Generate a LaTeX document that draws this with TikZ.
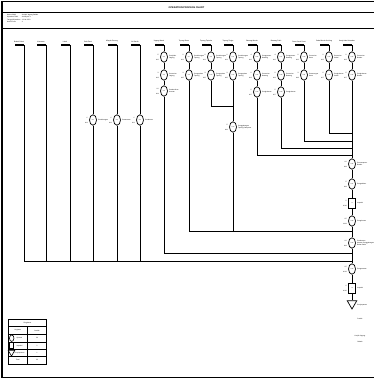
\documentclass[tikz,border=0pt]{standalone}
\usepackage{fontspec}
\setmainfont{Liberation Sans}
\usetikzlibrary{shapes.geometric}
\newcommand\tinyf{\fontsize{1.6}{1.9}\selectfont}
\tikzset{
  opsym/.style={ellipse, draw, line width=0.7pt, minimum width=7pt, minimum height=10.5pt, inner sep=0pt, font=\fontsize{1.3}{1.5}\selectfont},
  inspsym/.style={rectangle, draw, line width=0.7pt, minimum width=7pt, minimum height=10pt, inner sep=0pt, font=\fontsize{1.3}{1.5}\selectfont},
  storsym/.style={regular polygon, regular polygon sides=3, shape border rotate=180, draw, line width=0.7pt, minimum size=11pt, inner sep=0pt},
  flow/.style={line width=0.6pt},
  joinline/.style={line width=0.9pt},
  topbar/.style={line width=1.3pt},
  lbl/.style={font=\tinyf, inner sep=0pt, align=left},
  headlbl/.style={font=\fontsize{1.7}{2}\selectfont, inner sep=0pt},
}
% name, x, y, inside, left top, left bottom, right text
\newcommand\opc[7]{%
  \node[opsym] (#1) at (#2,#3) {#4};
  \node[lbl, anchor=east] (#1lt) at (#2-5,#3-2.5) {#5};
  \node[lbl, anchor=east] (#1lb) at (#2-5,#3+2.5) {#6};
  \node[lbl, anchor=west] (#1r) at (#2+5,#3) {#7};
}
% name, x, heading
\newcommand\colhead[3]{%
  \coordinate (b#1) at (#2-9,45);
  \coordinate (t#1) at (#2,45);
  \node[headlbl] (h#1) at (#2-5,41.5) {#3};
  \draw[topbar] (b#1) -- (t#1);
}
\begin{document}
\begin{tikzpicture}[x=1pt,y=-1pt]
\useasboundingbox (0,0) rectangle (373,379);
% frame and header
\coordinate (fl1) at (2,1.5); \coordinate (fr1) at (374,1.5);
\coordinate (fl2) at (2,12.5); \coordinate (fr2) at (374,12.5);
\coordinate (fl3) at (2,28.5); \coordinate (fr3) at (374,28.5);
\coordinate (fl4) at (2,377.8); \coordinate (fr4) at (374,377.8);
\draw[line width=0.5pt] (fl1) -- (fr1);
\draw[line width=0.5pt] (fl2) -- (fr2);
\draw[line width=1.3pt] (fl3) -- (fr3);
\draw[line width=1.3pt] (fl4) -- (fr4);
\draw[line width=1.5pt] (fl1) -- (fl4);
\node[font=\fontsize{2.4}{2.8}\selectfont\bfseries, inner sep=0pt] (title) at (186.5,7.3) {OPERATION PROCESS CHART};
\node[lbl, anchor=west] (n1) at (7,15) {Nama Objek};
\node[lbl, anchor=west] (n2) at (7,17.4) {Dipetakan Oleh};
\node[lbl, anchor=west] (n3) at (7,19.8) {Tanggal Dipetakan};
\node[lbl, anchor=west] (n4) at (7,22.2) {Nomor Peta};
\node[lbl, anchor=west] (v1) at (21,15) {: Keripik Jagung Balado};
\node[lbl, anchor=west] (v2) at (21,17.4) {: Kelompok 1};
\node[lbl, anchor=west] (v3) at (21,19.8) {: 12-04-2023};
\node[lbl, anchor=west] (v4) at (21,22.2) {: 1};

% column headings
\colhead{1}{24}{Bubuk Cabai}
\colhead{2}{46}{Kemasan}
\colhead{3}{70}{Label}
\colhead{4}{93}{Gula Pasir}
\colhead{5}{117}{Minyak Goreng}
\colhead{6}{140}{Air Bersih}
\colhead{7}{164}{Jagung Manis}
\colhead{8}{189}{Tepung Beras}
\colhead{9}{211}{Tepung Tapioka}
\colhead{10}{233}{Tepung Terigu}
\colhead{11}{257}{Bawang Merah}
\colhead{12}{281}{Bawang Putih}
\colhead{13}{304}{Daun Jeruk Purut}
\colhead{14}{329}{Cabai Merah Keriting}
\colhead{15}{352}{Kunyit dan Ketumbar}

% operations on the columns
\opc{c4a}{93}{120}{O-1}{1'}{M-1}{Penimbangan}
\opc{c5a}{117}{120}{O-2}{1'}{M-1}{Pemanasan}
\opc{c6a}{140}{120}{O-3}{1'}{M-1}{Penakaran}
\opc{c7a}{164}{57}{O-4}{5'}{M-2}{Pemipilan\\Jagung}
\opc{c7b}{164}{75}{O-5}{3'}{M-3}{Pencucian\\Jagung}
\opc{c7c}{164}{91}{O-6}{10'}{M-4}{Pembersihan\\Kotoran}
\opc{c8a}{189}{57}{O-7}{2'}{M-1}{Penimbangan\\Tepung}
\opc{c8b}{189}{75}{O-8}{3'}{M-5}{Pengayakan\\Tepung}
\opc{c9a}{211}{57}{O-9}{2'}{M-1}{Penimbangan\\Tepung}
\opc{c9b}{211}{75}{O-10}{3'}{M-5}{Pengayakan\\Tepung}
\opc{c10a}{233}{57}{O-11}{2'}{M-1}{Penimbangan\\Tepung}
\opc{c10b}{233}{75}{O-12}{3'}{M-5}{Pengayakan\\Tepung}
\opc{c10c}{233}{127}{O-13}{5'}{M-6}{Penggabungan\\Tepung Campuran}
\opc{c11a}{257}{57}{O-14}{4'}{M-2}{Pengupasan\\Bawang}
\opc{c11b}{257}{75}{O-15}{2'}{M-3}{Pencucian\\Bawang}
\opc{c11c}{257}{92}{O-16}{5'}{M-7}{Penghalusan}
\opc{c12a}{281}{57}{O-17}{4'}{M-2}{Pengupasan\\Bawang}
\opc{c12b}{281}{75}{O-18}{2'}{M-3}{Pencucian\\Bawang}
\opc{c12c}{281}{92}{O-19}{5'}{M-7}{Penghalusan}
\opc{c13a}{304}{57}{O-20}{2'}{M-3}{Pencucian\\Daun}
\opc{c13b}{304}{75}{O-21}{3'}{M-8}{Pemotongan\\Daun}
\opc{c14a}{329}{57}{O-22}{2'}{M-3}{Pencucian\\Cabai}
\opc{c14b}{329}{75}{O-23}{5'}{M-7}{Penghalusan\\Cabai}
\opc{c15a}{352}{57}{O-24}{2'}{M-3}{Pencucian\\Bumbu}
\opc{c15b}{352}{75}{O-25}{5'}{M-7}{Penghalusan\\Bumbu}

% main line
\opc{s1}{352}{164}{O-26}{10'}{M-9}{Pencampuran\\Bumbu}
\opc{s2}{352}{184}{O-27}{5'}{M-9}{Pengadukan}
\node[inspsym] (i1) at (352,203) {I-1};
\node[lbl, anchor=east] (i1lt) at (347,200.5) {2'};
\node[lbl, anchor=east] (i1lb) at (347,205.5) {M-10};
\node[lbl, anchor=west] (i1r) at (357,203) {Inspeksi};
\opc{s3}{352}{221}{O-28}{15'}{M-11}{Pengukusan}
\opc{s4}{352}{243}{O-29}{10'}{M-9}{Pembuatan\\Adonan Penggabungan\\Bahan Baku}
\opc{s5}{352}{269}{O-30}{15'}{M-12}{Pengemasan}
\node[inspsym] (i2) at (352,288) {I-2};
\node[lbl, anchor=east] (i2lt) at (347,285.5) {2'};
\node[lbl, anchor=east] (i2lb) at (347,290.5) {M-10};
\node[lbl, anchor=west] (i2r) at (357,288) {Inspeksi};
\node[storsym] (st) at (352,303.5) {};
\node[lbl, anchor=west] (str) at (357,305.5) {Penyimpanan};
\node[lbl] (p1) at (360,319) {Produk};
\node[lbl] (p2) at (360,336) {Keripik Jagung};
\node[lbl] (p3) at (360,342) {Balado};

% junction coordinates
\coordinate (e1) at (24,261);
\coordinate (e2) at (46,261);
\coordinate (e3) at (70,261);
\coordinate (e4) at (93,261);
\coordinate (e5) at (117,261);
\coordinate (e6) at (140,261);
\coordinate (k0) at (352,261);
\coordinate (e7) at (164,253); \coordinate (k7) at (352,253);
\coordinate (e8) at (189,231); \coordinate (k8) at (352,231);
\coordinate (e9) at (211,106); \coordinate (f9) at (233,106);
\coordinate (e10) at (233,231);
\coordinate (e11) at (257,155); \coordinate (k11) at (352,155);
\coordinate (e12) at (281,148); \coordinate (k12) at (352,148);
\coordinate (e13) at (304,141); \coordinate (k13) at (352,141);
\coordinate (e14) at (329,133); \coordinate (k14) at (352,133);

% connectors
\draw[flow] (t1) -- (e1);
\draw[flow] (t2) -- (e2);
\draw[flow] (t3) -- (e3);
\draw[flow] (t4) -- (c4a) -- (e4);
\draw[flow] (t5) -- (c5a) -- (e5);
\draw[flow] (t6) -- (c6a) -- (e6);
\draw[joinline] (e1) -- (k0);
\draw[flow] (t7) -- (c7a) -- (c7b) -- (c7c) -- (e7);
\draw[joinline] (e7) -- (k7);
\draw[flow] (t8) -- (c8a) -- (c8b) -- (e8);
\draw[joinline] (e8) -- (k8);
\draw[flow] (t9) -- (c9a) -- (c9b) -- (e9);
\draw[joinline] (e9) -- (f9);
\draw[flow] (t10) -- (c10a) -- (c10b) -- (c10c) -- (e10);
\draw[flow] (t11) -- (c11a) -- (c11b) -- (c11c) -- (e11);
\draw[joinline] (e11) -- (k11);
\draw[flow] (t12) -- (c12a) -- (c12b) -- (c12c) -- (e12);
\draw[joinline] (e12) -- (k12);
\draw[flow] (t13) -- (c13a) -- (c13b) -- (e13);
\draw[joinline] (e13) -- (k13);
\draw[flow] (t14) -- (c14a) -- (c14b) -- (e14);
\draw[joinline] (e14) -- (k14);
\draw[flow] (t15) -- (c15a) -- (c15b) -- (s1) -- (s2) -- (i1) -- (s3) -- (s4) -- (s5) -- (i2) -- (st);

% summary table
\coordinate (ta) at (8.3,319.3);
\coordinate (tb) at (46.7,364);
\draw[line width=0.8pt] (ta) rectangle (tb);
\foreach \yy in {326.7,334.3,342,349.3,356.7} {\draw[line width=0.8pt] (8.3,\yy) -- (46.7,\yy);}
\coordinate (tc) at (27.3,326.7);
\coordinate (td) at (27.3,364);
\draw[line width=0.8pt] (tc) -- (td);
\node[lbl] (tt) at (27.5,323) {Ringkasan};
\node[lbl] (th1) at (17.8,330.5) {Kegiatan};
\node[lbl] (th2) at (37,330.5) {Jumlah};
\node[opsym, minimum width=4.5pt, minimum height=6.5pt, line width=0.6pt] (lg1) at (11.7,338.2) {};
\node[lbl] (tr1) at (19.5,338.2) {Operasi};
\node[lbl] (tv1) at (37,338.2) {30};
\node[inspsym, minimum width=4pt, minimum height=6pt, line width=0.6pt] (lg2) at (11.7,345.7) {};
\node[lbl] (tr2) at (19.5,345.7) {Inspeksi};
\node[lbl] (tv2) at (37,345.7) {2};
\node[storsym, minimum size=7.5pt, line width=0.6pt] (lg3) at (11.5,352.3) {};
\node[lbl] (tr3) at (19.5,353) {Penyimpanan};
\node[lbl] (tv3) at (37,353) {1};
\node[lbl] (tr4) at (17.8,360.4) {Total};
\node[lbl] (tv4) at (37,360.4) {33};
\end{tikzpicture}
\end{document}
